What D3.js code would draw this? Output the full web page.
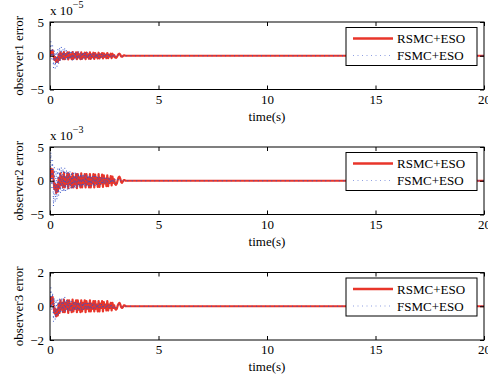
<!DOCTYPE html>
<html>
<head>
<meta charset="utf-8">
<script src="https://cdn.jsdelivr.net/npm/d3@7"></script>
<style>
  html, body { margin: 0; padding: 0; background: #fff; }
  svg { display: block; }
  text { font-family: "Liberation Serif", "Times New Roman", serif; fill: #000; }
</style>
</head>
<body>
<svg id="chart" width="488" height="378"></svg>
<script>
// Sample times (s) of the simulated observer errors; the run is flat after 3.6 s until 20 s
const time = [0,0.04,0.08,0.12,0.16,0.2,0.24,0.28,0.32,0.36,0.4,0.44,0.48,0.52,0.56,0.6,0.64,0.68,0.72,0.76,
  0.8,0.84,0.88,0.92,0.96,1,1.04,1.08,1.12,1.16,1.2,1.24,1.28,1.32,1.36,1.4,1.44,1.48,1.52,1.56,
  1.6,1.64,1.68,1.72,1.76,1.8,1.84,1.88,1.92,1.96,2,2.04,2.08,2.12,2.16,2.2,2.24,2.28,2.32,2.36,
  2.4,2.44,2.48,2.52,2.56,2.6,2.64,2.68,2.72,2.76,2.8,2.84,2.88,2.92,2.96,3,3.04,3.08,3.12,3.16,
  3.2,3.24,3.28,3.32,3.36,3.4,3.44,3.48,3.52,3.56,3.6,20];

// Observer 1 error (x 1e-5)
const rsmc1 = [0,0.7,0.2,0.8,0.1,-0.6,-0.2,-0.9,-0.3,-0.9,0.2,-0.6,0.5,-0.3,0.3,-0.5,0.55,-0.5,0.25,-0.2,
  0.5,-0.55,0.5,-0.25,0.2,-0.5,0.55,-0.45,0.25,-0.2,0.5,-0.5,0.5,-0.25,0.2,-0.5,0.5,-0.45,0.25,-0.2,
  0.45,-0.5,0.45,-0.2,0.2,-0.45,0.5,-0.45,0.2,-0.2,0.45,-0.45,0.4,-0.2,0.15,-0.4,0.45,-0.4,0.2,-0.15,
  0.4,-0.4,0.35,-0.15,0.15,-0.35,0.4,-0.35,0.15,-0.1,0.3,-0.35,0.3,-0.1,0.1,-0.25,-0.3,-0.2,0.05,0.25,
  0.3,0.15,-0.1,-0.15,-0.05,0.05,0.05,0,0,0,0,0];
const fsmc1 = [0,2.1,-0.5,1.5,-1.8,0.8,-1.9,0.6,-1.6,1.0,-1.2,1.2,-0.8,1.3,-0.6,0.9,-0.7,1.2,-0.6,0.8,
  -0.7,0.7,-0.6,0.8,-0.5,0.6,-0.7,0.6,-0.5,0.6,-0.6,0.5,-0.5,0.6,-0.5,0.5,-0.6,0.5,-0.4,0.5,
  -0.5,0.5,-0.4,0.5,-0.4,0.4,-0.5,0.4,-0.4,0.4,-0.4,0.4,-0.35,0.4,-0.35,0.35,-0.4,0.3,-0.3,0.35,
  -0.3,0.3,-0.3,0.3,-0.25,0.25,-0.3,0.25,-0.2,0.25,-0.2,0.2,-0.2,0.15,-0.15,0.1,-0.2,-0.1,0.05,0.15,
  0.2,0.1,-0.05,-0.1,-0.05,0,0.05,0,0,0,0,0];

// Observer 2 error (x 1e-3)
const rsmc2 = [0,1.8,0.6,1.7,0.3,-1.2,-0.5,-1.8,-0.6,-1.6,0.4,-1.1,1.1,-0.6,0.6,-1.0,1.2,-1.0,0.5,-0.5,
  1.1,-1.1,1.0,-0.5,0.5,-1.0,1.1,-1.0,0.5,-0.5,1.0,-1.1,1.0,-0.5,0.5,-1.0,1.1,-1.0,0.5,-0.4,
  1.0,-1.0,1.0,-0.5,0.4,-1.0,1.0,-1.0,0.4,-0.4,1.0,-1.0,0.9,-0.4,0.4,-0.9,1.0,-0.9,0.4,-0.4,
  0.9,-0.9,0.8,-0.4,0.3,-0.8,0.8,-0.8,0.3,-0.3,0.7,-0.7,0.6,-0.3,0.2,-0.5,-0.6,-0.4,0.1,0.5,
  0.6,0.3,-0.2,-0.3,-0.1,0.1,0.1,0,0,0,0,0];
const fsmc2 = [0,4.2,-1.0,3.0,-3.8,2.0,-3.2,1.5,-2.8,1.8,-2.2,2.0,-1.8,2.0,-1.6,1.8,-1.7,1.9,-1.5,1.6,
  -1.4,1.5,-1.3,1.4,-1.2,1.3,-1.3,1.2,-1.1,1.2,-1.2,1.1,-1.0,1.1,-1.0,1.0,-1.0,1.0,-0.9,1.0,
  -0.9,0.9,-0.9,0.9,-0.8,0.9,-0.8,0.8,-0.8,0.8,-0.8,0.7,-0.7,0.7,-0.7,0.7,-0.6,0.6,-0.6,0.6,
  -0.6,0.5,-0.5,0.5,-0.5,0.5,-0.4,0.4,-0.4,0.4,-0.4,0.3,-0.3,0.3,-0.3,0.2,-0.4,-0.2,0.1,0.3,
  0.4,0.2,-0.1,-0.2,-0.1,0,0.1,0,0,0,0,0];

// Observer 3 error
const rsmc3 = [0,0.5,0.15,0.55,0.1,-0.4,-0.15,-0.6,-0.2,-0.55,0.15,-0.4,0.35,-0.2,0.2,-0.35,0.4,-0.35,0.2,-0.15,
  0.35,-0.4,0.35,-0.2,0.15,-0.35,0.4,-0.3,0.2,-0.15,0.35,-0.35,0.35,-0.2,0.15,-0.35,0.35,-0.3,0.2,-0.15,
  0.35,-0.35,0.3,-0.15,0.15,-0.3,0.35,-0.3,0.15,-0.15,0.3,-0.3,0.3,-0.15,0.1,-0.3,0.3,-0.3,0.15,-0.1,
  0.3,-0.3,0.25,-0.1,0.1,-0.25,0.3,-0.25,0.1,-0.1,0.2,-0.25,0.2,-0.1,0.05,-0.15,-0.2,-0.15,0.05,0.15,
  0.2,0.1,-0.05,-0.1,-0.05,0.05,0.05,0,0,0,0,0];
const fsmc3 = [0,1.1,-0.2,0.8,-0.9,0.5,-0.8,0.4,-0.6,0.4,-0.5,0.45,-0.4,0.5,-0.35,0.45,-0.3,0.55,-0.3,0.4,
  -0.3,0.35,-0.3,0.35,-0.25,0.3,-0.3,0.3,-0.25,0.3,-0.25,0.25,-0.25,0.25,-0.2,0.25,-0.25,0.2,-0.2,0.25,
  -0.2,0.2,-0.2,0.2,-0.2,0.2,-0.2,0.2,-0.15,0.2,-0.15,0.15,-0.15,0.15,-0.15,0.15,-0.15,0.15,-0.1,0.15,
  -0.1,0.1,-0.1,0.1,-0.1,0.1,-0.1,0.1,-0.1,0.1,-0.1,0.1,-0.1,0.05,-0.05,0.05,-0.1,-0.05,0.05,0.1,
  0.1,0.05,0,-0.05,0,0,0,0,0,0,0,0];

const timeTicks = [0, 5, 10, 15, 20];
const panelLabels = ["observer1 error", "observer2 error", "observer3 error"];
const panelExponents = ["−5", "−3", null];
const panelDomains = [[-5, 5], [-5, 5], [-2, 2]];
const panelTicks = [[-5, 0, 5], [-5, 0, 5], [-2, 0, 2]];
const rsmcSeries = [rsmc1, rsmc2, rsmc3];
const fsmcSeries = [fsmc1, fsmc2, fsmc3];
const legendNames = ["RSMC+ESO", "FSMC+ESO"];

const svg = d3.select("#chart");
const left = 50, right = 484;
const panelTops = [22, 147, 272.5];
const panelH = 67.5;
const redColor = "#e8352a";
const blueColor = "#3552c8";

const x = d3.scaleLinear().domain([0, 20]).range([left, right]);
const fmt = d => (d < 0 ? "−" + Math.abs(d) : String(d));

panelTops.forEach((top, i) => {
  const bottom = top + panelH;
  const y = d3.scaleLinear().domain(panelDomains[i]).range([bottom, top]);
  const g = svg.append("g");

  const clipId = "clip" + i;
  svg.append("clipPath").attr("id", clipId)
    .append("rect").attr("x", left).attr("y", top).attr("width", right - left).attr("height", panelH);

  const line = d3.line().x((d, k) => x(time[k])).y(d => y(d));
  const plot = g.append("g").attr("clip-path", `url(#${clipId})`);
  plot.append("path").datum(rsmcSeries[i])
    .attr("d", line).attr("fill", "none")
    .attr("stroke", redColor).attr("stroke-width", 2.2).attr("stroke-linejoin", "round");
  plot.append("path").datum(fsmcSeries[i])
    .attr("d", line).attr("fill", "none")
    .attr("stroke", blueColor).attr("stroke-width", 1).attr("stroke-dasharray", "1,3.5");

  // axes with inward ticks on all four sides
  const bottomAxis = d3.axisBottom(x).tickValues(timeTicks).tickSizeInner(-4).tickSizeOuter(0)
    .tickPadding(5).tickFormat(fmt);
  const ab = g.append("g").attr("transform", `translate(0,${bottom})`).call(bottomAxis);
  const topAxis = d3.axisTop(x).tickValues(timeTicks).tickSizeInner(-4).tickSizeOuter(0).tickFormat("");
  const at = g.append("g").attr("transform", `translate(0,${top})`).call(topAxis);
  const leftAxis = d3.axisLeft(y).tickValues(panelTicks[i]).tickSizeInner(-4).tickSizeOuter(0)
    .tickPadding(6).tickFormat(fmt);
  const al = g.append("g").attr("transform", `translate(${left},0)`).call(leftAxis);
  const rightAxis = d3.axisRight(y).tickValues(panelTicks[i]).tickSizeInner(-4).tickSizeOuter(0).tickFormat("");
  const ar = g.append("g").attr("transform", `translate(${right},0)`).call(rightAxis);
  [ab, at, al, ar].forEach(a => {
    a.select(".domain").remove();
    a.selectAll("line").attr("stroke", "#000");
    a.selectAll("text").attr("font-size", 13).attr("font-family", "Liberation Serif, Times New Roman, serif")
      .attr("fill", "#000");
  });

  g.append("rect").attr("x", left).attr("y", top).attr("width", right - left).attr("height", panelH)
    .attr("fill", "none").attr("stroke", "#000").attr("stroke-width", 1);

  // axis titles
  g.append("text").attr("transform", `translate(23,${(top + bottom) / 2}) rotate(-90)`)
    .attr("text-anchor", "middle").attr("font-size", 13).text(panelLabels[i]);
  g.append("text").attr("x", (left + right) / 2).attr("y", bottom + 31)
    .attr("text-anchor", "middle").attr("font-size", 13).text("time(s)");

  if (panelExponents[i]) {
    const ex = g.append("text").attr("x", left).attr("y", top - 7).attr("font-size", 13);
    ex.append("tspan").text("x 10");
    ex.append("tspan").attr("dy", -7).attr("font-size", 10).text(panelExponents[i]);
  }

  // legend
  const lx = 346, ly = top + 5.5, lw = 131, lh = 38;
  const lg = g.append("g");
  lg.append("rect").attr("x", lx).attr("y", ly).attr("width", lw).attr("height", lh)
    .attr("fill", "#fff").attr("stroke", "#000").attr("stroke-width", 1);
  const rows = [
    { name: legendNames[0], color: redColor, width: 2.5, dash: null },
    { name: legendNames[1], color: blueColor, width: 1, dash: "1,3.5" }
  ];
  rows.forEach((r, k) => {
    const ry = ly + 11 + k * 17;
    lg.append("line").attr("x1", lx + 7).attr("x2", lx + 47).attr("y1", ry).attr("y2", ry)
      .attr("stroke", r.color).attr("stroke-width", r.width).attr("stroke-dasharray", r.dash)
      .attr("stroke-opacity", r.dash ? 0.55 : 1);
    lg.append("text").attr("x", lx + 51).attr("y", ry + 4.5).attr("font-size", 13).text(r.name);
  });
});
</script>
</body>
</html>
